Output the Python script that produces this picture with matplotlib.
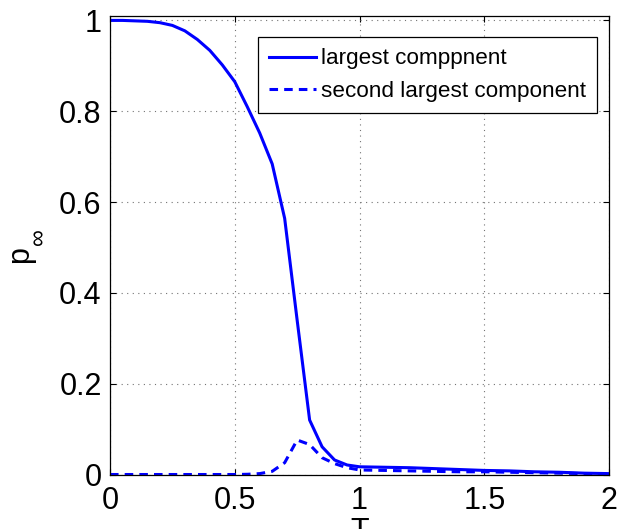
import matplotlib
matplotlib.use('Agg')
import matplotlib.pyplot as plt

# T values and the two component curves
T = [0.0, 0.05, 0.1, 0.15, 0.2, 0.25, 0.3, 0.35, 0.4, 0.45, 0.5,
     0.55, 0.6, 0.65, 0.7, 0.75, 0.8, 0.85, 0.9, 0.95, 1.0,
     1.1, 1.2, 1.3, 1.4, 1.5, 1.6, 1.7, 1.8, 1.9, 2.0]
largest = [1.0, 1.0, 0.999, 0.998, 0.995, 0.989, 0.977, 0.958, 0.934, 0.902, 0.865,
           0.81, 0.752, 0.684, 0.564, 0.34, 0.12, 0.061, 0.032, 0.021, 0.017,
           0.016, 0.015, 0.013, 0.011, 0.009, 0.008, 0.006, 0.005, 0.003, 0.002]
second = [0.0, 0.0, 0.0, 0.0, 0.0, 0.0, 0.0, 0.0, 0.0, 0.0, 0.0,
          0.0005, 0.002, 0.007, 0.026, 0.076, 0.066, 0.037, 0.024, 0.015, 0.010,
          0.009, 0.008, 0.007, 0.006, 0.006, 0.005, 0.004, 0.003, 0.002, 0.001]

xticks = [0, 0.5, 1, 1.5, 2]
xticklabels = ['0', '0.5', '1', '1.5', '2']
yticks = [0, 0.2, 0.4, 0.6, 0.8, 1]
yticklabels = ['0', '0.2', '0.4', '0.6', '0.8', '1']

plt.rcParams['font.family'] = ['Liberation Sans', 'DejaVu Sans']

fig = plt.figure(figsize=(6.24, 5.29), dpi=100)
ax = fig.add_axes([0.1763, 0.103, 0.7997, 0.867])

ax.plot(T, largest, color='#0000ff', lw=2.2, label='largest comppnent')
ax.plot(T, second, color='#0000ff', lw=2.2, dashes=(2.8, 2.0),
        label='second largest component')

ax.set_xlim(0, 2)
ax.set_ylim(0, 1.01)
ax.set_xticks(xticks)
ax.set_xticklabels(xticklabels)
ax.set_yticks(yticks)
ax.set_yticklabels(yticklabels)
ax.tick_params(direction='in', length=4.5, width=0.8, top=True, right=True,
               labelsize=22)
ax.tick_params(axis='x', pad=8)
ax.tick_params(axis='y', pad=6)

ax.grid(True, color='0.45', lw=0.8, linestyle=(0, (1, 4)))
for s in ax.spines.values():
    s.set_linewidth(0.9)

ax.set_xlabel('T', fontsize=22)
ax.xaxis.set_label_coords(0.5, -0.092)
# y label: "p" with a subscript infinity placed like the original
ax.set_ylabel('p', fontsize=22)
ax.yaxis.set_label_coords(-0.150, 0.479)
ax.text(-0.1423, 0.518, '\u221e', transform=ax.transAxes, rotation=90,
        fontsize=17, ha='center', va='center')

leg = ax.legend(loc='upper right', bbox_to_anchor=(0.9766, 0.9535),
                borderaxespad=0, fontsize=16.2, fancybox=False, framealpha=1,
                edgecolor='black', handlelength=2.1, handletextpad=0.22,
                labelspacing=0.52, borderpad=0.5)
leg.get_frame().set_linewidth(0.9)

fig.savefig('out.png', dpi=100)
